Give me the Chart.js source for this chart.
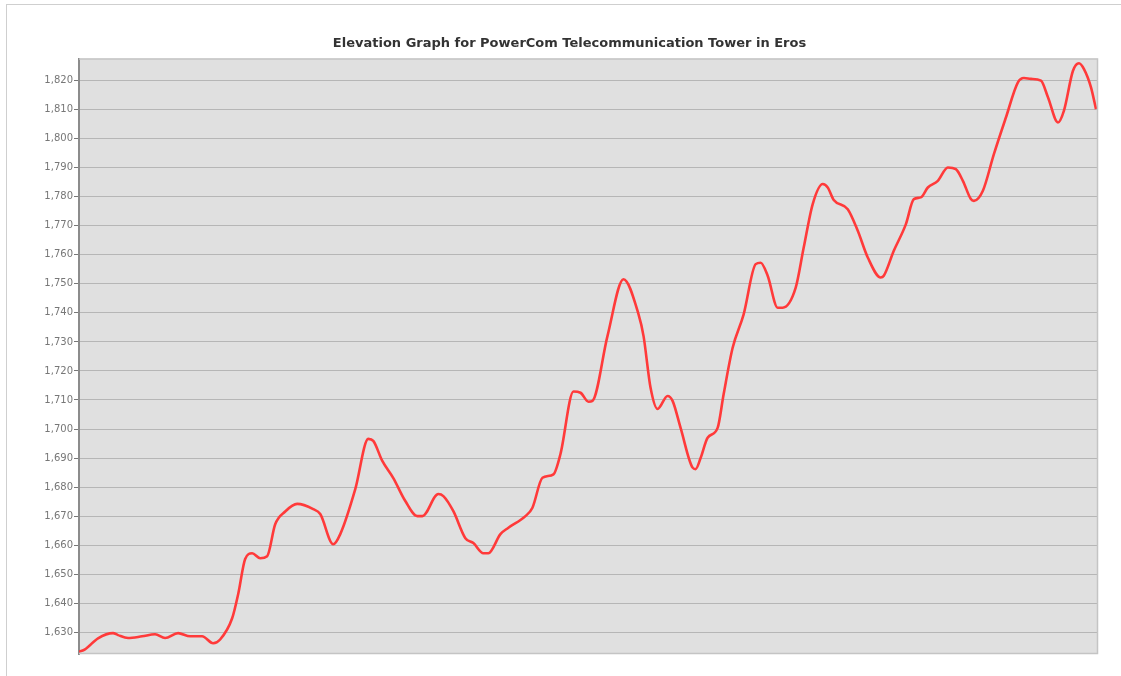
<!DOCTYPE html>
<html>
<head>
<meta charset="utf-8">
<script src="https://cdn.jsdelivr.net/npm/chart.js@4.4.1/dist/chart.umd.min.js"></script>
<style>
  html, body { margin: 0; padding: 0; background: #fff; }
  #cornice {
    position: absolute; left: 6px; top: 4px; width: 1115px; height: 672px;
    border-top: 1px solid #cfcfcf; border-left: 1px solid #cfcfcf; box-sizing: border-box;
  }
  #wrap { position: absolute; left: 0; top: 0; width: 1114px; height: 671px; }
</style>
</head>
<body>
<div id="cornice"><div id="wrap"><canvas id="grafico"></canvas></div></div>
<script>
// distanza lungo il percorso (unita' arbitrarie) e quota in metri
const distanza = [0, 1, 6, 19, 34, 39, 49, 63, 76, 86, 99, 111, 123, 134, 141, 153, 159, 166, 173, 181,
  188, 196, 206, 218, 234, 241, 254, 261, 276, 289, 294, 303, 314, 326, 338, 343, 359, 364, 374, 386,
  394, 404, 409, 421, 429, 446, 453, 463, 474, 481, 494, 501, 509, 513, 528, 544, 559, 564, 571, 578,
  588, 593, 601, 613, 616, 621, 628, 638, 644, 653, 664, 676, 681, 688, 698, 703, 716, 724, 733, 743,
  748, 754, 768, 778, 788, 801, 804, 814, 826, 834, 841, 848, 858, 868, 876, 883, 891, 894, 903, 914,
  926, 938, 944, 951, 961, 968, 978, 984, 993, 999, 1004, 1011, 1016];
const quota = [1623.3, 1623.4, 1624.1, 1627.9, 1629.7, 1629.0, 1628.0, 1628.6, 1629.3, 1628.0, 1629.7, 1628.6, 1628.6, 1626.2, 1627.5, 1634.8, 1643.1, 1655.2, 1657.2, 1655.5,
  1656.2, 1667.2, 1671.6, 1674.2, 1672.4, 1670.7, 1660.3, 1663.8, 1679.3, 1696.6, 1695.9, 1689.0, 1683.1, 1675.2, 1670.0, 1670.0, 1677.6, 1676.9, 1671.7, 1662.4,
  1660.7, 1657.2, 1657.2, 1663.8, 1666.0, 1670.0, 1672.9, 1683.2, 1684.4, 1691.4, 1712.9, 1712.5, 1709.4, 1709.7, 1732.1, 1751.6, 1739.5, 1732.0, 1714.2, 1706.9,
  1711.4, 1709.7, 1700.4, 1686.7, 1686.2, 1690.0, 1697.0, 1700.4, 1712.0, 1728.0, 1739.5, 1756.8, 1757.3, 1752.8, 1741.8, 1741.8, 1748.7, 1762.5, 1777.5, 1784.4,
  1783.2, 1778.9, 1775.7, 1768.3, 1759.1, 1752.2, 1752.8, 1761.4, 1770.5, 1779.2, 1779.8, 1783.2, 1785.5, 1790.1, 1789.5, 1785.5, 1779.2, 1778.6, 1782.1, 1794.7,
  1807.3, 1819.4, 1820.9, 1820.6, 1820.0, 1814.3, 1805.6, 1809.7, 1823.4, 1826.0, 1824.0, 1817.7, 1810.2];
const titolo = 'Elevation Graph for PowerCom Telecommunication Tower in Eros';

// sfondo grigio dell'area del grafico con bordo
const sfondo = {
  id: 'sfondo',
  beforeDraw(chart){
    const a = chart.chartArea, ctx = chart.ctx;
    ctx.save();
    ctx.fillStyle = '#e0e0e0';
    ctx.fillRect(a.left, a.top, a.right - a.left, a.bottom - a.top);
    ctx.restore();
  },
  afterDraw(chart){
    const a = chart.chartArea, ctx = chart.ctx;
    ctx.save();
    ctx.strokeStyle = '#c4c4c4';
    ctx.lineWidth = 1.5;
    ctx.beginPath();
    ctx.moveTo(a.left, a.top + 0.5);
    ctx.lineTo(a.right - 0.5, a.top + 0.5);
    ctx.lineTo(a.right - 0.5, a.bottom - 0.5);
    ctx.lineTo(a.left, a.bottom - 0.5);
    ctx.stroke();
    ctx.restore();
  }
};

const punti = distanza.map((d, i) => ({ x: d, y: quota[i] }));

new Chart(document.getElementById('grafico'), {
  type: 'line',
  data: {
    datasets: [{
      label: 'Quota',
      data: punti,
      borderColor: '#ff3a3a',
      borderWidth: 2.6,
      pointRadius: 0,
      fill: false,
      cubicInterpolationMode: 'monotone'
    }]
  },
  options: {
    responsive: true,
    maintainAspectRatio: false,
    animation: false,
    layout: { padding: { left: 34, right: 23, top: 0, bottom: 22 } },
    plugins: {
      legend: { display: false },
      tooltip: { enabled: false },
      title: {
        display: true,
        text: titolo,
        color: '#333',
        font: { family: 'DejaVu Sans', size: 13, weight: 'bold' },
        padding: { top: 31, bottom: 7 }
      }
    },
    scales: {
      x: { type: 'linear', min: 0, max: 1018, display: false },
      y: {
        min: 1622.5,
        max: 1827.6,
        afterFit(scale){ scale.width = 38; },
        border: { display: true, color: '#8c8c8c', width: 2 },
        grid: { color: '#b6b6b6', lineWidth: 1, tickLength: 5, tickColor: '#777', drawTicks: true },
        ticks: {
          stepSize: 10,
          includeBounds: false,
          padding: 1,
          color: '#777',
          font: { family: 'DejaVu Sans', size: 10 },
          callback: v => v.toLocaleString('en-US')
        }
      }
    }
  },
  plugins: [sfondo]
});
</script>
</body>
</html>
